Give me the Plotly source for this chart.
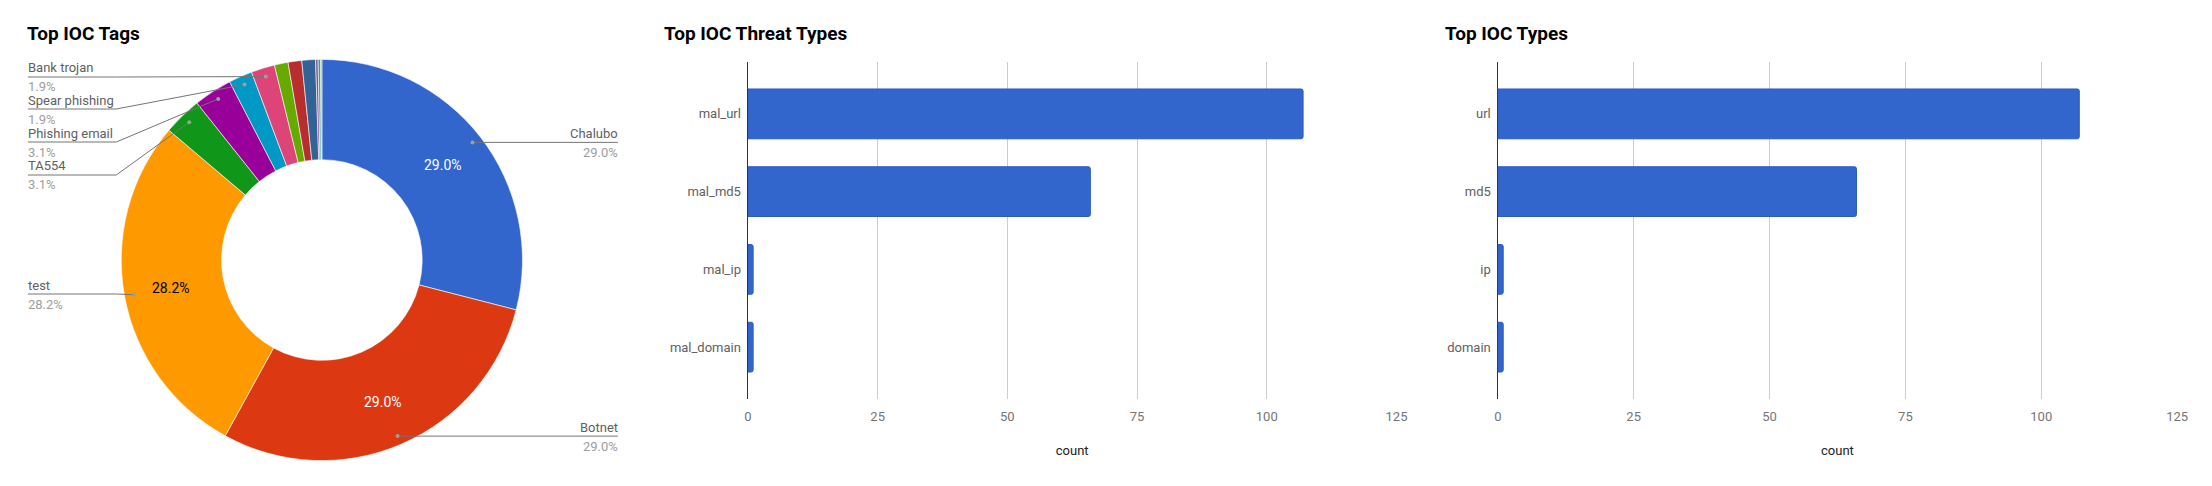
import math
import plotly.graph_objects as go

W, H = 2212, 486
PAD = 8  # page body margin
FW, FH = W - 2 * PAD, H - 2 * PAD

# ---------------- data ----------------
tag_labels = ["Chalubo", "Botnet", "test", "TA554", "Phishing email", "Spear phishing",
              "Bank trojan", "tag_8", "tag_9", "tag_10", "tag_11", "tag_12", "tag_13"]
tag_values = [29.0, 29.0, 28.2, 3.1, 3.1, 1.9, 1.9, 1.1, 1.1, 1.1, 0.2, 0.2, 0.1]
tag_colors = ["#3366cc", "#dc3912", "#ff9900", "#109618", "#990099", "#0099c6",
              "#dd4477", "#66aa00", "#b82e2e", "#316395", "#994499", "#22aa99", "#aaaa11"]

threat_types = ["mal_url", "mal_md5", "mal_ip", "mal_domain"]
threat_counts = [107, 66, 1, 1]

ioc_types = ["url", "md5", "ip", "domain"]
ioc_counts = [107, 66, 1, 1]

x_ticks = [0, 25, 50, 75, 100, 125]

FONT = "Roboto"


def px(x):
    return (x - PAD) / FW


def py(y):
    return 1 - (y - PAD) / FH


fig = go.Figure()

# ---------------- pie ----------------
cx, cy, R = 320, 260, 202
total = sum(tag_values)
fig.add_trace(go.Pie(
    labels=tag_labels, values=tag_values, hole=0.5, sort=False,
    direction="clockwise", rotation=0,
    marker=dict(colors=tag_colors, line=dict(color="white", width=0.6)),
    textinfo="none",
    showlegend=False, hoverinfo="label+percent",
    domain=dict(x=[px(cx - R), px(cx + R)], y=[py(cy + R), py(cy - R)]),
))

# leader labels (side, y of line) for labeled slices
label_layout = {
    "Bank trojan": ("left", 77),
    "Spear phishing": ("left", 109),
    "Phishing email": ("left", 142),
    "TA554": ("left", 175),
    "test": ("left", 294),
    "Chalubo": ("right", None),
    "Botnet": ("right", None),
}
inside_color = {"Chalubo": "white", "Botnet": "white", "test": "black"}

shapes = []
annotations = []
cum = 0.0
LINE_COL = "#757575"
for lab, v in zip(tag_labels, tag_values):
    mid = (cum + v / 2) / total * 2 * math.pi
    cum += v
    pct = f"{v / total * 100:.1f}%"
    if lab in inside_color:
        tx_in = cx + 0.765 * R * math.sin(mid)
        ty_in = cy - 0.765 * R * math.cos(mid)
        annotations.append(dict(x=px(tx_in), y=py(ty_in), xref="paper", yref="paper",
                                text=pct, showarrow=False, xanchor="center", yanchor="middle",
                                font=dict(family=FONT, size=14, color=inside_color[lab])))
    if lab not in label_layout:
        continue
    side, ly = label_layout[lab]
    dx = cx + 0.95 * R * math.sin(mid)
    dy = cy - 0.95 * R * math.cos(mid)
    if side == "left":
        path = f"M {px(24)} {py(ly)} L {px(113)} {py(ly)} L {px(dx)} {py(dy)}"
        tx, anchor = 22, "left"
    else:
        ly = dy
        path = f"M {px(dx)} {py(dy)} L {px(618)} {py(dy)}"
        tx, anchor = 620, "right"
    shapes.append(dict(type="path", path=path, xref="paper", yref="paper",
                       line=dict(color=LINE_COL, width=1)))
    shapes.append(dict(type="circle", xref="paper", yref="paper",
                       x0=px(dx - 2), x1=px(dx + 2), y0=py(dy + 2), y1=py(dy - 2),
                       fillcolor="#9e9e9e", line=dict(width=0)))
    annotations.append(dict(x=px(tx), y=py(ly - 9), xref="paper", yref="paper",
                            text=lab, showarrow=False, xanchor=anchor, yanchor="middle",
                            font=dict(family=FONT, size=13, color="#616161")))
    annotations.append(dict(x=px(tx), y=py(ly + 10), xref="paper", yref="paper",
                            text=pct, showarrow=False, xanchor=anchor, yanchor="middle",
                            font=dict(family=FONT, size=13, color="#9e9e9e")))

# ---------------- bars ----------------
BAR = "#3366cc"
fig.add_trace(go.Bar(x=threat_counts, y=threat_types, orientation="h",
                     marker=dict(color=BAR, line=dict(color="#2b5cc4", width=1), cornerradius=2),
                     xaxis="x", yaxis="y", showlegend=False))
fig.add_trace(go.Bar(x=ioc_counts, y=ioc_types, orientation="h",
                     marker=dict(color=BAR, line=dict(color="#2b5cc4", width=1), cornerradius=2),
                     xaxis="x2", yaxis="y2", showlegend=False))

xax = dict(range=[0, 125], tickvals=x_ticks, showgrid=True, gridcolor="#cccccc", gridwidth=1,
           zeroline=True, zerolinecolor="#333333", zerolinewidth=1.2, showline=False,
           tickfont=dict(family=FONT, size=13, color="#757575"), ticks="",
           ticklabelstandoff=8,
           title=dict(text="count", font=dict(family=FONT, size=13, color="#222222"), standoff=22),
           fixedrange=True)
yax = dict(range=[3.667, -0.667], showgrid=False, zeroline=False, showline=False, ticks="",
           tickfont=dict(family=FONT, size=13, color="#616161"), ticklabelstandoff=6,
           fixedrange=True)

fig.update_layout(
    width=FW, height=FH, margin=dict(l=0, r=0, t=0, b=0),
    paper_bgcolor="white", plot_bgcolor="white", bargap=0.36,
    xaxis=dict(domain=[px(749), px(1402)], anchor="y", **xax),
    yaxis=dict(domain=[py(399), py(62)], anchor="x", **yax),
    xaxis2=dict(domain=[px(1504), px(2188)], anchor="y2", **xax),
    yaxis2=dict(domain=[py(399), py(62)], anchor="x2", **yax),
    shapes=shapes,
    font=dict(family=FONT),
)

titles = [("Top IOC Tags", 21), ("Top IOC Threat Types", 662), ("Top IOC Types", 1449)]
for t, x in titles:
    annotations.append(dict(x=px(x), y=py(34), xref="paper", yref="paper", text=f"<b>{t}</b>",
                            showarrow=False, xanchor="left", yanchor="middle",
                            font=dict(family=FONT, size=19, color="#000000")))
fig.update_layout(annotations=annotations)

fig.write_html("out.html")
